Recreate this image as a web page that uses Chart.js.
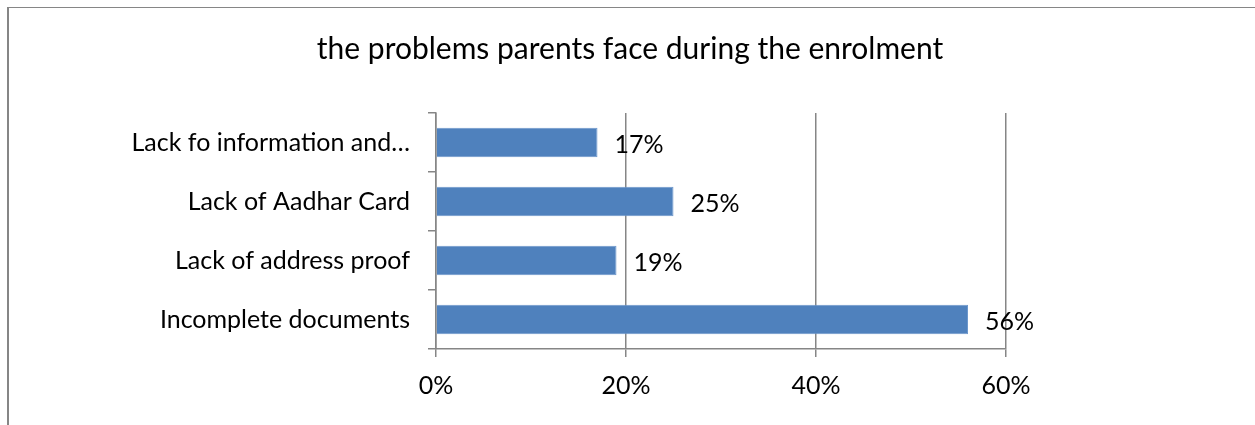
<!DOCTYPE html>
<html>
<head>
<meta charset="utf-8">
<script src="https://cdn.jsdelivr.net/npm/chart.js@4/dist/chart.umd.min.js"></script>
<style>
    html, body { margin: 0; padding: 0; background: #fff; }
    #wrap { position: relative; width: 1255px; height: 425px; overflow: hidden; }
    #frame { position: absolute; left: 7px; top: 7px; width: 1260px; height: 430px;
             border-top: 1px solid #868686; border-left: 2px solid #868686; }
    #chart-box { position: absolute; left: 0; top: 0; width: 1255px; height: 425px; }
</style>
</head>
<body>
<div id="wrap">
    <div id="frame"></div>
    <div id="chart-box"><canvas id="problems-chart"></canvas></div>
</div>
<script>
// 数据（从上到下）
const categories = ['Lack fo information and\u2026', 'Lack of Aadhar Card', 'Lack of address proof', 'Incomplete documents'];
const percentValues = [17, 25, 19, 56];
const xTickValues = [0, 20, 40, 60];

const FONT = 'Lato, "Open Sans", sans-serif';
const AXIS_GREY = '#868686';

// 柱子右侧的百分比标签
const barValueLabels = {
    id: 'barValueLabels',
    afterDatasetsDraw(chart) {
        const ctx = chart.ctx;
        const meta = chart.getDatasetMeta(0);
        ctx.save();
        ctx.font = '25px ' + FONT;
        ctx.fillStyle = '#000';
        ctx.textAlign = 'left';
        ctx.textBaseline = 'middle';
        meta.data.forEach((bar, i) => {
            ctx.fillText(percentValues[i] + '%', bar.x + 17, bar.y + 2);
        });
        ctx.restore();
    }
};

const ctx = document.getElementById('problems-chart').getContext('2d');
new Chart(ctx, {
    type: 'bar',
    data: {
        labels: categories,
        datasets: [{
            data: percentValues,
            backgroundColor: '#4F81BD',
            borderColor: '#6c97cc',
            borderWidth: 1,
            categoryPercentage: 1,
            barPercentage: 0.5
        }]
    },
    options: {
        indexAxis: 'y',
        responsive: true,
        maintainAspectRatio: false,
        animation: false,
        layout: {
            padding: { left: 5, top: 0, right: 0, bottom: 0 }
        },
        scales: {
            x: {
                min: 0,
                max: 60,
                afterBuildTicks: function(scale) {
                    scale.ticks = xTickValues.map(v => ({ value: v }));
                },
                afterFit: function(scale) { scale.height = 76; },
                grid: { color: AXIS_GREY, lineWidth: 1.5, tickLength: 8, drawTicks: true },
                border: { color: AXIS_GREY, width: 1.5 },
                ticks: {
                    color: '#000',
                    padding: 14,
                    font: { family: FONT, size: 25 },
                    callback: function(value) { return value + '%'; }
                }
            },
            y: {
                afterFit: function(scale) { scale.width = 431; },
                grid: { offset: true, drawOnChartArea: false, color: AXIS_GREY, lineWidth: 1.5, tickLength: 8 },
                border: { color: AXIS_GREY, width: 1.5 },
                ticks: {
                    color: '#000',
                    padding: 18,
                    font: { family: FONT, size: 25 }
                }
            },
            // 右侧留白用的空轴
            spacer: {
                type: 'linear',
                position: 'right',
                display: true,
                afterFit: function(scale) { scale.width = 249; },
                grid: { display: false },
                border: { display: false },
                ticks: { display: false }
            }
        },
        plugins: {
            legend: { display: false },
            tooltip: { enabled: false },
            title: {
                display: true,
                text: 'the problems parents face during the enrolment',
                color: '#000',
                font: { family: FONT, size: 30, weight: 'normal' },
                padding: { top: 31, bottom: 46 }
            }
        }
    },
    plugins: [barValueLabels]
});
</script>
</body>
</html>
